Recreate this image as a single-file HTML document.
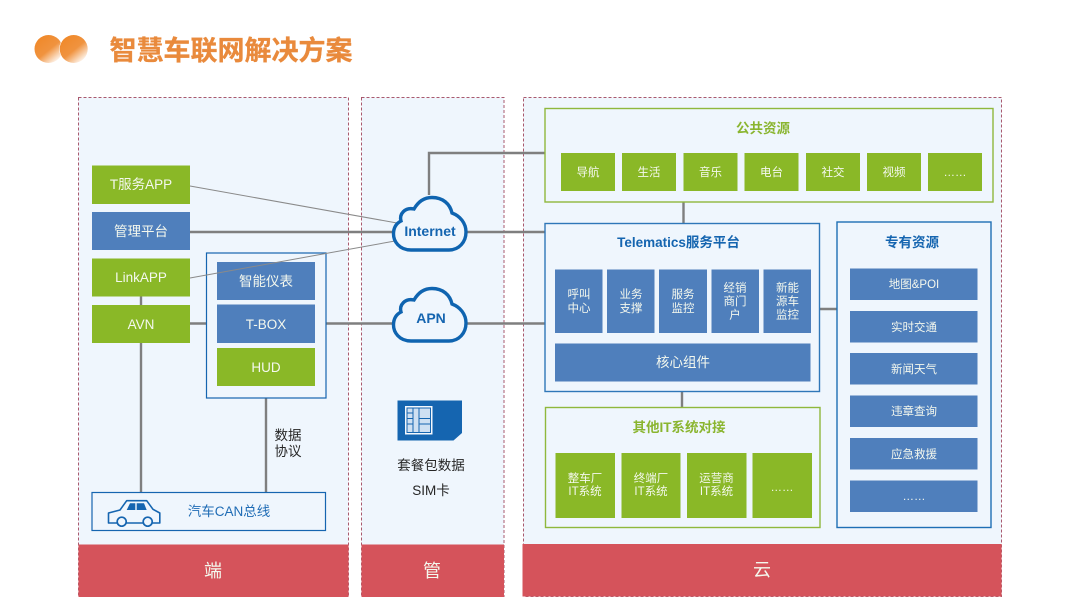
<!DOCTYPE html>
<html lang="zh">
<head>
<meta charset="utf-8">
<title>智慧车联网解决方案</title>
<style>
html,body{margin:0;padding:0;background:#fff;width:1080px;height:608px;overflow:hidden}
svg{display:block}
text{font-family:"Liberation Sans","Noto Sans CJK SC",sans-serif;text-anchor:middle}
.w{fill:#f4f8ee}
.s{font-size:11.5px}
.m{font-size:13.5px}
.g{fill:#8ab52f;font-weight:700;font-size:13.5px}
.b{fill:#1565b0;font-weight:700;font-size:13.5px}
.d{fill:#262626;font-size:13.5px}
.green{fill:#8ab827}
.blue{fill:#4f7fbc}
.line{stroke:#7f7f7f;stroke-width:2.4;fill:none}
.thin{stroke:#8a8a8a;stroke-width:1;fill:none}
.panel{fill:#eff6fd;stroke:#a9596e;stroke-width:1;stroke-dasharray:3 2}
.red{fill:#d5535b}
.cloud{fill:#eff6fd;stroke:#0f64b0;stroke-width:3.4}
</style>
</head>
<body>
<svg width="1080" height="608" viewBox="0 0 1080 608" xmlns="http://www.w3.org/2000/svg">
<defs>
<linearGradient id="o" x1="0.2" y1="0.15" x2="0.85" y2="0.95">
<stop offset="0" stop-color="#f08a2c"/><stop offset="0.48" stop-color="#f0933f"/><stop offset="1" stop-color="#ffffff"/>
</linearGradient>
</defs>
<rect width="1080" height="608" fill="#fff"/>

<circle cx="48.500" cy="49" r="14" fill="url(#o)"/>
<circle cx="73.700" cy="49" r="14.500" fill="#fff"/>
<circle cx="73.700" cy="49" r="14" fill="url(#o)"/>
<text x="231" y="60" style="font-size:27px;font-weight:700;fill:#e98a3c;stroke:#e98a3c;stroke-width:.3">智慧车联网解决方案</text>

<rect class="panel" x="78.500" y="97.500" width="270" height="499"/>
<rect class="panel" x="361.500" y="97.500" width="142.500" height="499"/>
<rect class="panel" x="523.500" y="97.500" width="478" height="499"/>

<!-- connectors -->
<path class="line" d="M429 195V153H545"/>
<path class="line" d="M190 232H545"/>
<path class="line" d="M190 323.500H206M326 323.500H545"/>
<path class="line" d="M141 296V305M141 343V492M266 398V492"/>
<path class="line" d="M683.500 202V223M682 391V408M820 309H837"/>

<!-- 端 -->
<rect class="green" x="92" y="165.500" width="98" height="38.500"/>
<text class="w m" x="141" y="189">T服务APP</text>
<rect class="blue" x="92" y="212" width="98" height="38"/>
<text class="w m" x="141" y="236">管理平台</text>
<rect class="green" x="92" y="258.500" width="98" height="38"/>
<text class="w m" x="141" y="282">LinkAPP</text>
<rect class="green" x="92" y="305" width="98" height="38"/>
<text class="w m" x="141" y="329">AVN</text>

<rect x="206.500" y="253" width="119.500" height="145" fill="#eff6fd" stroke="#1565b0" stroke-width="1.200"/>
<rect class="blue" x="217" y="262" width="98" height="38"/>
<text class="w m" x="266" y="286">智能仪表</text>
<rect class="blue" x="217" y="304.500" width="98" height="38.500"/>
<text class="w m" x="266" y="329">T-BOX</text>
<rect class="green" x="217" y="348" width="98" height="38"/>
<text class="w m" x="266" y="372">HUD</text>

<path class="thin" d="M190 186L397 223M190 278L395 241"/>

<text class="d" x="288" y="440">数据</text>
<text class="d" x="288" y="456">协议</text>

<rect x="92" y="492.500" width="233.500" height="38" fill="#eff6fd" stroke="#1565b0" stroke-width="1.200"/>
<text x="229" y="516" style="font-size:13.500px;fill:#1f6cb5">汽车CAN总线</text>
<!-- car -->
<path d="M108.500 513L120 510L126.700 500.700H146.700L153 509.300L159.800 513V523H108.500Z" fill="none" stroke="#1565b0" stroke-width="1.600" stroke-linejoin="round"/>
<circle cx="121.700" cy="521.700" r="4.500" fill="#eff6fd" stroke="#1565b0" stroke-width="1.700"/>
<circle cx="147.700" cy="521.700" r="4.500" fill="#eff6fd" stroke="#1565b0" stroke-width="1.700"/>
<path d="M126.700 510L130 503.300H135.300V510ZM136.700 503.300H144L146.700 510H136.700Z" fill="#1565b0"/>

<!-- clouds -->
<path class="cloud" d="M411 250C399 250 393.500 241 393.500 234C393.500 227 397 223 401 221C399 214 405 207 414 209C418 202 424 197.500 432 197.500C443 197.500 450 204 452 213C460 216 466 223 466 232C466 242 459 250 449 250Z"/>
<text x="430" y="236" style="font-size:14px;font-weight:700;fill:#1565b0">Internet</text>
<path class="cloud" d="M411 341C399 341 393.500 332 393.500 325C393.500 318 397 314 401 312C399 305 405 298 414 300C418 293 424 288.500 432 288.500C443 288.500 450 295 452 304C460 307 466 314 466 323C466 333 459 341 449 341Z"/>
<text x="431" y="323" style="font-size:14px;font-weight:700;fill:#1565b0">APN</text>

<!-- SIM -->
<path d="M397.500 400.500H462V433L453.500 440.500H397.500Z" fill="#1565b0"/>
<rect x="405" y="406" width="27.500" height="28.500" fill="#f4f8fd"/>
<rect x="407" y="408" width="23.500" height="24.500" fill="#cfe0f2" stroke="#1565b0" stroke-width="1"/>
<path d="M413 408V432.500M419 408V432.500M407 413H413M407 418.500H413M407 424H413M419 418.500H430.500M419 424H430.500" stroke="#1565b0" stroke-width="1" fill="none"/>
<text class="d" x="431" y="470">套餐包数据</text>
<text class="d" x="431" y="495">SIM卡</text>

<!-- 公共资源 -->
<rect x="545" y="108.500" width="448" height="93.500" fill="#eff6fd" stroke="#8fb83c" stroke-width="1.400"/>
<text class="g" x="763" y="133">公共资源</text>
<rect class="green" x="561" y="153" width="54" height="38"/><text class="w s" x="588" y="176">导航</text>
<rect class="green" x="622" y="153" width="54" height="38"/><text class="w s" x="649" y="176">生活</text>
<rect class="green" x="683.500" y="153" width="54" height="38"/><text class="w s" x="710.500" y="176">音乐</text>
<rect class="green" x="744.500" y="153" width="54" height="38"/><text class="w s" x="771.500" y="176">电台</text>
<rect class="green" x="806" y="153" width="54" height="38"/><text class="w s" x="833" y="176">社交</text>
<rect class="green" x="867" y="153" width="54" height="38"/><text class="w s" x="894" y="176">视频</text>
<rect class="green" x="928" y="153" width="54" height="38"/><text class="w s" x="955" y="176">……</text>

<!-- Telematics -->
<rect x="545" y="223.500" width="274.500" height="168" fill="#eff6fd" stroke="#2f77b8" stroke-width="1.400"/>
<text class="b" x="678.500" y="247">Telematics服务平台</text>
<rect class="blue" x="555" y="269.500" width="47.500" height="63.500"/>
<text class="w s" x="579" y="298">呼叫</text><text class="w s" x="579" y="312">中心</text>
<rect class="blue" x="607" y="269.500" width="47.500" height="63.500"/>
<text class="w s" x="631" y="298">业务</text><text class="w s" x="631" y="312">支撑</text>
<rect class="blue" x="659" y="269.500" width="48" height="63.500"/>
<text class="w s" x="683" y="298">服务</text><text class="w s" x="683" y="312">监控</text>
<rect class="blue" x="711.500" y="269.500" width="47.500" height="63.500"/>
<text class="w s" x="735" y="291.500">经销</text><text class="w s" x="735" y="305">商门</text><text class="w s" x="735" y="318.500">户</text>
<rect class="blue" x="763.500" y="269.500" width="47.500" height="63.500"/>
<text class="w s" x="787.500" y="291.500">新能</text><text class="w s" x="787.500" y="305">源车</text><text class="w s" x="787.500" y="318.500">监控</text>
<rect class="blue" x="555" y="343.500" width="255.500" height="38"/>
<text class="w m" x="683" y="367">核心组件</text>

<!-- 其他IT -->
<rect x="545.500" y="407.500" width="274.500" height="120" fill="#eff6fd" stroke="#8fb83c" stroke-width="1.400"/>
<text class="g" x="679" y="432">其他IT系统对接</text>
<rect class="green" x="555.500" y="453" width="59.500" height="65"/>
<text class="w s" x="585" y="482">整车厂</text><text class="w s" x="585" y="495">IT系统</text>
<rect class="green" x="621.500" y="453" width="59" height="65"/>
<text class="w s" x="651" y="482">终端厂</text><text class="w s" x="651" y="495">IT系统</text>
<rect class="green" x="687" y="453" width="59.500" height="65"/>
<text class="w s" x="716.500" y="482">运营商</text><text class="w s" x="716.500" y="495">IT系统</text>
<rect class="green" x="752.500" y="453" width="59.500" height="65"/>
<text class="w s" x="782" y="491">……</text>

<!-- 专有资源 -->
<rect x="837" y="222" width="154" height="305.500" fill="#eff6fd" stroke="#1f6fb5" stroke-width="1.400"/>
<text class="b" x="912" y="247">专有资源</text>
<rect class="blue" x="850" y="268.500" width="127.500" height="31.500"/><text class="w s" x="914" y="288">地图&amp;POI</text>
<rect class="blue" x="850" y="311" width="127.500" height="31.500"/><text class="w s" x="914" y="331">实时交通</text>
<rect class="blue" x="850" y="353" width="127.500" height="31.500"/><text class="w s" x="914" y="373">新闻天气</text>
<rect class="blue" x="850" y="395.500" width="127.500" height="31.500"/><text class="w s" x="914" y="415">违章查询</text>
<rect class="blue" x="850" y="438" width="127.500" height="31.500"/><text class="w s" x="914" y="458">应急救援</text>
<rect class="blue" x="850" y="480.500" width="127.500" height="31.500"/><text class="w s" x="914" y="500">……</text>

<!-- bars -->
<rect class="red" x="78.500" y="544.500" width="270" height="52.500"/>
<text class="w" x="213" y="577" style="font-size:18px">端</text>
<rect class="red" x="361.500" y="544.500" width="142.500" height="52.500"/>
<text class="w" x="432" y="577" style="font-size:18px">管</text>
<rect class="red" x="522.500" y="544" width="479" height="52.500"/>
<text class="w" x="762" y="576" style="font-size:18px">云</text>
</svg>
</body>
</html>
